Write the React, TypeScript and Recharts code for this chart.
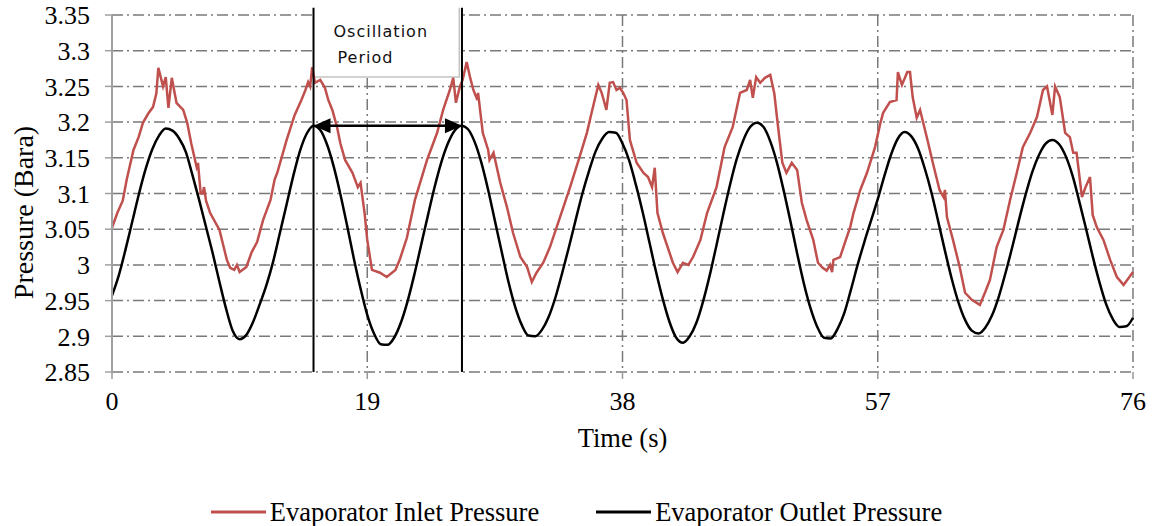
import {
  LineChart,
  Line,
  XAxis,
  YAxis,
  CartesianGrid,
  Legend,
  Label,
  ReferenceLine,
  ReferenceArea,
} from 'recharts';

const FONT = '"Liberation Serif", "Times New Roman", serif';
const BOX_FONT = '"DejaVu Sans", Verdana, sans-serif';

const xTicks = [0, 19, 38, 57, 76];
const yTicks = [2.85, 2.9, 2.95, 3, 3.05, 3.1, 3.15, 3.2, 3.25, 3.3, 3.35];

// outlet pressure sampled every 0.5 s
const SAMPLE_STEP = 0.5;
const outletPressure = [
  2.957, 2.985, 3.021, 3.060, 3.099, 3.134, 3.162, 3.181, 3.191, 3.188,
  3.177, 3.158, 3.125, 3.090, 3.053, 3.016, 2.976, 2.938, 2.907, 2.896,
  2.902, 2.920, 2.945, 2.972, 3.005, 3.045, 3.085, 3.125, 3.160, 3.184,
  3.195, 3.189, 3.169, 3.138, 3.099, 3.055, 3.009, 2.967, 2.930, 2.904,
  2.889, 2.888, 2.898, 2.919, 2.949, 2.986, 3.027, 3.068, 3.108, 3.143,
  3.170, 3.188, 3.195, 3.190, 3.172, 3.143, 3.105, 3.062, 3.019, 2.977,
  2.942, 2.916, 2.901, 2.900, 2.909, 2.927, 2.954, 2.988, 3.024, 3.062,
  3.099, 3.131, 3.159, 3.177, 3.186, 3.185, 3.170, 3.146, 3.112, 3.074,
  3.032, 2.990, 2.952, 2.920, 2.898, 2.891, 2.900, 2.919, 2.949, 2.986,
  3.028, 3.071, 3.112, 3.148, 3.175, 3.193, 3.199, 3.193, 3.173, 3.143,
  3.104, 3.061, 3.016, 2.974, 2.939, 2.913, 2.898, 2.897, 2.910, 2.932,
  2.965, 3.000, 3.032, 3.062, 3.092, 3.125, 3.155, 3.177, 3.186, 3.180,
  3.163, 3.135, 3.101, 3.061, 3.020, 2.981, 2.948, 2.923, 2.908, 2.904,
  2.912, 2.929, 2.955, 2.988, 3.024, 3.062, 3.098, 3.130, 3.154, 3.170,
  3.175, 3.169, 3.152, 3.125, 3.089, 3.051, 3.012, 2.976, 2.945, 2.924,
  2.913, 2.914, 2.926,
];

// inlet pressure, irregular samples (noisy signal)
const inletTime = [
  0, 0.4, 0.8, 1.1, 1.6, 2.0, 2.3, 2.7, 3.05, 3.3, 3.45, 3.8, 4.0, 4.2, 4.45, 4.8, 5.3, 5.6, 5.9, 6.3,
  6.4, 6.6, 6.75, 6.85, 7.0, 7.3, 8.0, 8.55, 8.8, 9.1, 9.3, 9.5, 10.0, 10.4, 10.8, 11.25, 11.8, 12.1, 12.3, 13.0,
  13.6, 14.1, 14.4, 14.6, 14.75, 14.9, 15.1, 15.5, 15.85, 16.1, 16.4, 16.75, 17.0, 17.35, 17.9, 18.3, 18.5, 18.8, 19.0, 19.35,
  19.95, 20.45, 21.1, 21.45, 21.95, 22.55, 23.45, 24.2, 24.65, 25.15, 25.4, 25.6, 25.9, 26.1, 26.4, 26.65, 26.9, 27.2, 27.25, 27.6,
  28.0, 28.1, 28.4, 28.9, 29.4, 29.85, 30.4, 30.9, 31.25, 31.6, 32.1, 32.6, 33.35, 34.1, 34.8, 35.35, 35.7, 36.2, 36.45, 36.6,
  36.8, 37.05, 37.3, 37.55, 37.8, 38.05, 38.3, 38.55, 39.05, 39.55, 39.9, 40.2, 40.4, 40.6, 41.0, 41.75, 42.1, 42.5, 42.9, 43.25,
  43.8, 44.3, 45.0, 45.6, 46.2, 46.75, 47.25, 47.5, 47.7, 47.95, 48.25, 48.6, 49.0, 49.3, 49.6, 49.9, 50.2, 50.6, 51.0, 51.35,
  51.7, 52.2, 52.55, 52.9, 53.2, 53.45, 53.6, 53.7, 54.2, 54.55, 54.95, 55.2, 55.7, 56.2, 56.8, 57.2, 57.4, 57.9, 58.4, 58.5,
  58.8, 59.2, 59.4, 59.6, 59.9, 60.15, 60.7, 61.1, 61.6, 61.9, 62.0, 62.15, 62.6, 63.1, 63.5, 64.0, 64.6, 65.0, 65.35, 65.85,
  66.35, 66.85, 67.35, 67.8, 68.35, 68.85, 69.3, 69.6, 70.0, 70.2, 70.55, 70.95, 71.3, 71.55, 71.8, 72.2, 72.45, 72.8, 73.0, 73.3,
  73.8, 74.3, 74.8, 75.3, 76.0,
];
const inletPressure = [
  3.052, 3.073, 3.090, 3.120, 3.161, 3.180, 3.199, 3.212, 3.221, 3.240, 3.276, 3.250, 3.263, 3.220, 3.262, 3.227, 3.217, 3.199, 3.170, 3.137,
  3.143, 3.100, 3.100, 3.109, 3.090, 3.073, 3.049, 3.007, 2.996, 2.993, 3.000, 2.990, 2.997, 3.018, 3.032, 3.063, 3.091, 3.119, 3.129, 3.175,
  3.210, 3.231, 3.245, 3.256, 3.250, 3.277, 3.255, 3.259, 3.248, 3.231, 3.217, 3.193, 3.170, 3.147, 3.129, 3.109, 3.115, 3.073, 3.035, 2.993,
  2.989, 2.983, 2.993, 3.009, 3.038, 3.091, 3.147, 3.185, 3.217, 3.245, 3.262, 3.227, 3.250, 3.259, 3.284, 3.263, 3.245, 3.231, 3.241, 3.185,
  3.161, 3.147, 3.157, 3.115, 3.081, 3.045, 3.011, 2.997, 2.976, 2.989, 3.003, 3.025, 3.067, 3.109, 3.151, 3.185, 3.213, 3.252, 3.241, 3.231,
  3.217, 3.255, 3.256, 3.245, 3.248, 3.241, 3.231, 3.175, 3.143, 3.129, 3.123, 3.109, 3.136, 3.073, 3.045, 3.003, 2.990, 3.003, 3.000, 3.011,
  3.035, 3.073, 3.109, 3.165, 3.193, 3.241, 3.245, 3.259, 3.234, 3.263, 3.255, 3.262, 3.266, 3.240, 3.190, 3.143, 3.129, 3.143, 3.133, 3.087,
  3.063, 3.035, 3.003, 2.996, 2.992, 3.000, 2.990, 3.007, 3.011, 3.031, 3.053, 3.073, 3.105, 3.129, 3.165, 3.199, 3.213, 3.228, 3.231, 3.270,
  3.252, 3.270, 3.270, 3.235, 3.206, 3.217, 3.175, 3.143, 3.105, 3.095, 3.105, 3.067, 3.035, 2.997, 2.961, 2.951, 2.944, 2.962, 2.979, 3.025,
  3.049, 3.091, 3.129, 3.165, 3.185, 3.207, 3.245, 3.250, 3.210, 3.250, 3.235, 3.185, 3.179, 3.157, 3.157, 3.095, 3.108, 3.123, 3.070, 3.053,
  3.035, 3.007, 2.983, 2.972, 2.990,
];

// oscillation period annotation (s)
const PERIOD_START = 15;
const PERIOD_END = 26.05;
const PERIOD_LEVEL = 3.195;

const outletData = outletPressure.map((p, i) => ({ t: i * SAMPLE_STEP, p }));
const inletData = inletTime.map((t, i) => ({ t, p: inletPressure[i] }));

const fmt = (v: number) => String(Number(v.toFixed(2)));

const ArrowShape = (props: any) => {
  const { x1, y1, x2 } = props;
  return (
    <g>
      <line x1={x1 + 10} y1={y1} x2={x2 - 10} y2={y1} stroke="#000" strokeWidth={2.5} />
      <polygon points={`${x1},${y1} ${x1 + 17},${y1 - 7.5} ${x1 + 17},${y1 + 7.5}`} fill="#000" />
      <polygon points={`${x2},${y1} ${x2 - 17},${y1 - 7.5} ${x2 - 17},${y1 + 7.5}`} fill="#000" />
    </g>
  );
};

const BoxShape = (props: any) => {
  const { x, y, width, height } = props;
  return (
    <g>
      <rect x={x} y={y} width={width} height={height} fill="#fff" />
      <polyline
        points={`${x},${y + height} ${x + width},${y + height} ${x + width},${y}`}
        fill="none"
        stroke="#c4c4c4"
        strokeWidth={1.5}
      />
      <text x={x + 20} y={y + 29} fontFamily={BOX_FONT} fontSize={16} letterSpacing={1} fill="#111">
        Oscillation
      </text>
      <text x={x + 24} y={y + 55} fontFamily={BOX_FONT} fontSize={16} letterSpacing={1} fill="#111">
        Period
      </text>
    </g>
  );
};

const renderLegend = () => {
  const item = (color: string, text: string, gap: number) => (
    <div style={{ display: 'flex', alignItems: 'center', marginLeft: gap }}>
      <svg width={55} height={6}>
        <line x1={0} y1={3} x2={55} y2={3} stroke={color} strokeWidth={3} />
      </svg>
      <span style={{ marginLeft: 4 }}>{text}</span>
    </div>
  );
  return (
    <div
      style={{
        display: 'flex',
        justifyContent: 'center',
        alignItems: 'center',
        fontFamily: FONT,
        fontSize: 26.5,
        color: '#000',
        lineHeight: '30px',
      }}
    >
      {item('#c0504d', 'Evaporator Inlet Pressure', 0)}
      {item('#000', 'Evaporator Outlet Pressure', 57)}
    </div>
  );
};

export default function App() {
  return (
    <div style={{ position: 'absolute', left: 0, top: 0, width: 1153, height: 526, background: '#fff' }}>
      <LineChart width={1153} height={526} margin={{ top: 15, right: 20, bottom: 74, left: 0 }}>
        <CartesianGrid stroke="#7a7a7a" strokeWidth={1.5} strokeDasharray="11 4 2 4" />
        <XAxis
          type="number"
          dataKey="t"
          domain={[0, 76]}
          ticks={xTicks}
          interval={0}
          height={80}
          axisLine={false}
          tickLine={{ stroke: '#999', strokeWidth: 1.5 }}
          tickSize={7}
          tickMargin={13}
          tick={{ fill: '#000', fontSize: 26, fontFamily: FONT }}
        >
          <Label
            content={(p: any) => {
              const vb = p.viewBox || { x: 112, y: 372, width: 1021, height: 80 };
              return (
                <text x={vb.x + vb.width / 2} y={vb.y + 75} textAnchor="middle" fontFamily={FONT} fontSize={26.5} fill="#000">
                  Time (s)
                </text>
              );
            }}
          />
        </XAxis>
        <YAxis
          type="number"
          domain={[2.85, 3.35]}
          ticks={yTicks}
          interval={0}
          width={112}
          axisLine={{ stroke: '#a0a0a0', strokeWidth: 2 }}
          tickLine={{ stroke: '#a0a0a0', strokeWidth: 1.5 }}
          tickSize={7}
          tickMargin={15}
          tickFormatter={fmt}
          tick={{ fill: '#000', fontSize: 26, fontFamily: FONT }}
        >
          <Label
            content={(p: any) => {
              const vb = p.viewBox || { x: 0, y: 15, width: 112, height: 357 };
              const cx = vb.x + 33;
              const cy = vb.y + vb.height / 2 + 19;
              return (
                <text
                  x={cx}
                  y={cy}
                  transform={`rotate(-90 ${cx} ${cy})`}
                  textAnchor="middle"
                  fontFamily={FONT}
                  fontSize={28}
                  fill="#000"
                >
                  Pressure (Bara)
                </text>
              );
            }}
          />
        </YAxis>
        <Legend
          layout="horizontal"
          verticalAlign="middle"
          align="center"
          content={renderLegend}
          wrapperStyle={{ top: 497, left: 0, width: 1153, height: 30 }}
        />
        <ReferenceArea
          x1={PERIOD_START}
          x2={25.85}
          y1={3.263}
          y2={3.36}
          ifOverflow="visible"
          shape={BoxShape}
        />
        <Line
          data={inletData}
          dataKey="p"
          type="linear"
          stroke="#c0504d"
          strokeWidth={2.5}
          dot={false}
          activeDot={false}
          isAnimationActive={false}
          name="Evaporator Inlet Pressure"
        />
        <Line
          data={outletData}
          dataKey="p"
          type="monotone"
          stroke="#000"
          strokeWidth={2.5}
          dot={false}
          activeDot={false}
          isAnimationActive={false}
          name="Evaporator Outlet Pressure"
        />
        <ReferenceLine
          segment={[{ x: PERIOD_START, y: 3.36 }, { x: PERIOD_START, y: 2.85 }]}
          stroke="#000"
          strokeWidth={2}
          ifOverflow="visible"
        />
        <ReferenceLine
          segment={[{ x: PERIOD_END, y: 3.36 }, { x: PERIOD_END, y: 2.85 }]}
          stroke="#000"
          strokeWidth={2}
          ifOverflow="visible"
        />
        <ReferenceLine
          segment={[{ x: PERIOD_START, y: PERIOD_LEVEL }, { x: PERIOD_END, y: PERIOD_LEVEL }]}
          ifOverflow="visible"
          shape={ArrowShape}
        />
      </LineChart>
    </div>
  );
}
